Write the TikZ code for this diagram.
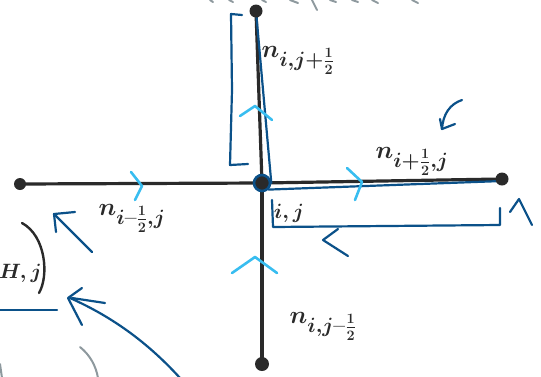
\documentclass[tikz,border=0pt]{standalone}
\usepackage{amsmath}
\usetikzlibrary{backgrounds}
\definecolor{ink}{HTML}{2A2A2A}
\definecolor{pen}{HTML}{0B5189}
\definecolor{sky}{HTML}{38BDF0}
\definecolor{lead}{HTML}{8E999E}
\newcommand{\mydash}{\mathbin{\text{\bfseries --}}}
\begin{document}
\begin{tikzpicture}[x=1pt,y=-1pt,
  dot/.style={circle,fill=ink,inner sep=0pt,minimum size=#1},
  blk/.style={draw=ink,line width=3.2pt,line cap=round},
  bl/.style={draw=pen,line width=2.2pt,line cap=round,line join=round},
  cy/.style={draw=sky,line width=2.6pt,line cap=round,line join=round},
  gr/.style={draw=lead,line width=2pt,line cap=round},
  lab/.style={text=ink,font=\fontsize{30}{32}\selectfont\boldmath,inner sep=0pt}]
\useasboundingbox (0,0) rectangle (541,376);
% nodes
\node[dot=13pt] (T) at (256,11) {};
\node[dot=12pt] (L) at (20,184) {};
\node[dot=13pt] (R) at (502,179) {};
\node[dot=14pt] (B) at (262,364) {};
\node[dot=16pt,draw=pen,line width=2.6pt] (C) at (262,183) {};
% connectors
\begin{scope}[on background layer]
\draw[blk] (L.center) -- (C.center);
\draw[blk] (C.center) -- (R.center);
\draw[blk] (T.center) -- (C.center);
\draw[blk] (C.center) -- (B.center);
\draw[bl] (T.center) -- (C.east);
\draw[bl] (C.south east) -- ([yshift=-2pt]R.center);
\end{scope}
% brackets
\draw[bl] (242,15) -- (231,14) -- (232,90) -- (230,165) -- (248,164);
\draw[bl] (272,200) -- (273,227) -- (500,225) -- (500,208);
% cyan chevrons
\draw[cy] (131,172) -- (142,186) -- (135,200);
\draw[cy] (347,168) -- (362,182) -- (355,200);
\draw[cy] (240,116) -- (255,106) -- (272,120);
\draw[cy] (232,273) -- (255,257) -- (277,273);
% blue arrows
\draw[bl] (338,229) -- (323,240) -- (348,256);
\draw[bl] (510,212) -- (519,199) -- (532,225);
\draw[bl] (462,100) .. controls (450,104) and (443,114) .. (442,129);
\draw[bl] (440,119) -- (442,129) -- (455,124);
\draw[bl] (92,252) -- (54,214);
\draw[bl] (75,212) -- (54,214) -- (56,232);
\draw[bl] (180,378) .. controls (150,345) and (115,318) .. (70,298);
\draw[bl] (82,288) -- (68,298) -- (82,325);
\draw[bl] (105,303) -- (72,298);
\draw[bl] (0,310) -- (57,310);
% parenthesis and partial text
\draw[ink,line width=2.4pt,line cap=round] (22,223) .. controls (46,236) and (49,276) .. (39,293);
\node[lab,anchor=west,font=\fontsize{20}{22}\selectfont\boldmath] (hj) at (-1,273) {$H,j$};
% grey partial strokes
\draw[gr] (80,347) .. controls (90,355) and (96,366) .. (98,378);
\draw[gr] (0,364) -- (2,378);
\draw[gr] (312,0) -- (317,10);
\draw[gr] (210,0) -- (213,2);
\draw[gr] (229,0) -- (233,2);
\draw[gr] (262,0) -- (266,2);
\draw[gr] (290,0) -- (298,3);
\draw[gr] (330,0) -- (336,2);
\draw[gr] (352,0) -- (358,2);
\draw[gr] (372,0) -- (378,3);
\draw[gr] (412,0) -- (418,3);
% labels
\node[lab] (nt) at (298,60) {$n_{i,j+\frac12}$};
\node[lab] (nr) at (412,161) {$n_{i+\frac12,j}$};
\node[lab] (nl) at (132,218) {$n_{i\mydash\frac12,j}$};
\node[lab] (nb) at (323,326) {$n_{i,j\mydash\frac12}$};
\node[lab,font=\fontsize{22}{24}\selectfont\boldmath] (ij) at (289,213) {$i,j$};
\end{tikzpicture}
\end{document}
